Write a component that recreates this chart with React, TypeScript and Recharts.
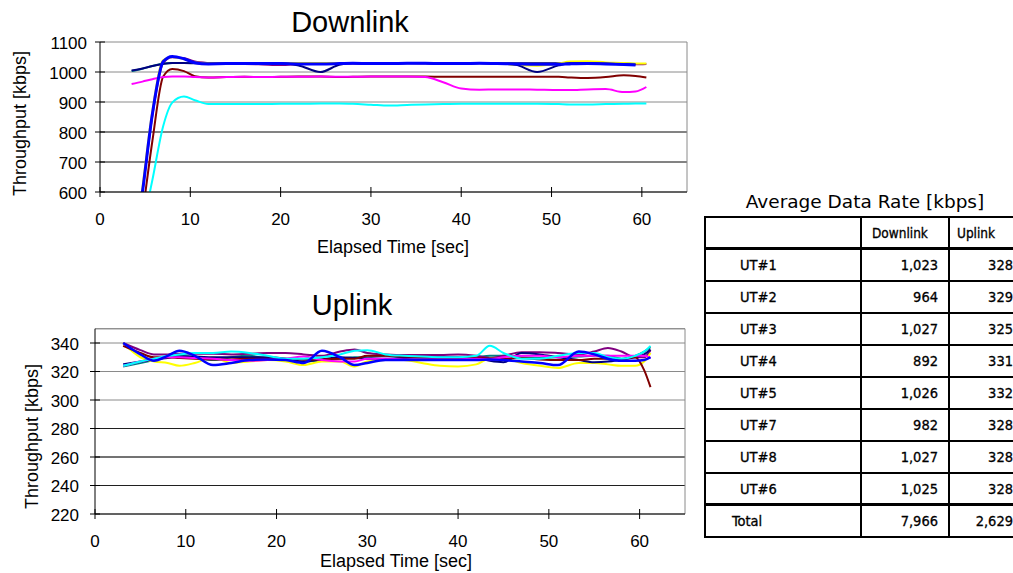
import React from 'react';
import { LineChart, Line, XAxis, YAxis, CartesianGrid, ReferenceLine } from 'recharts';

// ---------- Downlink data ----------
const dlTime = [3.5, 4.7, 5.8, 7, 8, 9.3, 10.5, 12, 14, 16, 18, 20, 22, 24.4, 26.5, 28, 30, 32, 34, 36, 38, 40, 42, 44, 46, 48.4, 50.8, 52, 54, 56, 58, 59.3, 60.5];
const dlNavy = [1005, 1012, 1020, 1027, 1030, 1030, 1029, 1028, 1028, 1028, 1028, 1029, 1022, 1000, 1024, 1029, 1028, 1028, 1029, 1029, 1028, 1028, 1029, 1028, 1024, 1000, 1022, 1029, 1029, 1028, 1026, 1025, null];
const dlBlue = [350, 600, 860, 1035, 1052, 1044, 1031, 1027, 1028, 1028, 1028, 1028, 1027, 1027, 1028, 1029, 1028, 1028, 1029, 1029, 1028, 1028, 1029, 1028, 1027, 1026, 1026, 1027, 1028, 1027, 1025, 1023, null];
const dlYellow = [340, 615, 870, 1040, 1050, 1043, 1032, 1030, 1030, 1030, 1030, 1030, 1030, 1030, 1030, 1030, 1030, 1030, 1030, 1030, 1030, 1030, 1030, 1029, 1024, 1021, 1028, 1035, 1036, 1032, 1030, 1028, 1028];
const dlPurple = [330, 600, 855, 1030, 1049, 1046, 1035, 1030, 1028, 1027, 1025, 1023, 1026, 1029, 1030, 1028, 1028, 1030, 1030, 1029, 1028, 1028, 1030, 1029, 1028, 1028, 1028, 1028, 1030, 1029, 1027, 1026, 1027];
const dlTeal = [1003, 1011, 1020, 1028, 1030, 1030, 1030, 1030, 1030, 1030, 1030, 1030, 1030, 1030, 1030, 1030, 1030, 1030, 1030, 1030, 1030, 1030, 1030, 1030, 1030, 1030, 1030, 1030, 1030, 1030, 1029, 1027, null];
const dlMaroon = [250, 523, 770, 985, 1010, 1003, 986, 982, 983, 984, 983, 984, 985, 985, 983, 984, 985, 985, 985, 985, 984, 984, 984, 984, 984, 984, 984, 982, 980, 983, 989, 987, 982];
const dlMagenta = [960, 968, 976, 983, 985, 985, 983, 982, 983, 984, 983, 984, 984, 985, 984, 984, 985, 985, 985, 983, 966, 945, 941, 942, 942, 941, 940, 940, 942, 943, 933, 935, 950];
const dlCyan = [300, 480, 640, 820, 898, 918, 906, 893, 893, 893, 893, 894, 894, 895, 895, 894, 891, 888, 890, 892, 893, 894, 894, 894, 894, 894, 893, 892, 892, 893, 894, 895, 895];

// ---------- Uplink data ----------
const ulTime = [3.1, 5, 6.5, 8, 9.3, 11, 13, 15, 17, 19, 21, 23, 25, 27, 28.6, 30, 32, 34, 36, 38, 40, 42, 43.5, 45, 47, 49, 51, 53.3, 55, 56.5, 58, 59.5, 60.5, 61.2];
const ulBlue = [340, 332, 327.5, 331, 334.5, 331, 324.5, 326, 328, 328.5, 328, 326, 334.5, 330, 324.5, 326, 328, 328, 328, 328, 328, 328, 328.5, 328, 327, 326, 324.5, 334, 332, 329, 327.5, 327.5, 328, 330];
const ulYellow = [340, 330, 327, 326, 324, 326, 330, 326, 327, 328, 327, 324.5, 327, 327, 323.5, 327, 328, 328, 326, 324, 323.5, 325, 329, 329, 326, 324, 322.5, 326, 326, 325, 324, 324, 327, 333];
const ulPurple = [340, 335, 332, 332, 332.5, 332.5, 332.5, 332, 332.5, 333, 333, 332, 331, 334, 335.5, 333, 332, 331.5, 331.5, 331.5, 332, 331, 329.5, 331, 333.5, 333.5, 333, 332, 334, 336.5, 334, 330, 330, 335];
const ulMaroon = [338, 333, 330, 330, 329.5, 329, 328.5, 328.5, 329, 329, 329, 328.5, 328.5, 329, 329, 331, 331, 330.5, 330, 329.5, 329.5, 329.5, 329, 329, 329.5, 328.5, 328, 328, 329, 329, 328.5, 330, 321, 309];
const ulCyan = [324, 327, 329, 331, 332, 333, 333, 334, 333, 331, 329, 329, 330, 332, 334.5, 335, 332, 331, 330.5, 330, 330, 331, 338, 333, 329, 329, 331, 333, 333, 330, 329, 331, 334, 338];
const ulTeal = [323.5, 326, 328, 330, 331, 330, 328, 330, 331, 329, 328, 327, 328, 329, 330, 330, 331, 330, 329.5, 329, 329.5, 330, 331, 331, 330, 329.5, 330, 330.5, 331, 331, 329, 331, 334, 337];
const ulNavy = [325, 327, 328.5, 329.5, 330.5, 330.5, 330, 330, 330, 330, 329, 327, 328.5, 330, 329.5, 329, 329, 329.5, 330, 330, 330, 329.5, 327.5, 326.5, 333, 332, 330, 328, 326.5, 327, 328.5, 330, 332, 335.5];
const ulMagenta = [324, 327, 329, 330, 330, 329.5, 329, 328, 327.5, 328, 329, 330.5, 328, 327, 327, 329, 329, 328.5, 328.5, 328.5, 328.5, 329, 328.5, 330, 331, 331, 330, 331, 331, 331, 331, 331, 331, 329.5];

// ---------- Axis ticks ----------
const xTicks = [0, 10, 20, 30, 40, 50, 60];
const dlYTicks = [600, 700, 800, 900, 1000, 1100];
const dlDarkGrid = [700, 800];
const ulYTicks = [220, 240, 260, 280, 300, 320, 340];
const ulDarkGrid = [240, 260, 280];

// ---------- Table ----------
const utLabels = ['UT#1', 'UT#2', 'UT#3', 'UT#4', 'UT#5', 'UT#7', 'UT#8', 'UT#6'];
const dlAvg = [1023, 964, 1027, 892, 1026, 982, 1027, 1025];
const ulAvg = [328, 329, 325, 331, 332, 328, 328, 328];
const totalLabel = 'Total';
const dlTotal = 7966;
const ulTotal = 2629;

const dlData = dlTime.map((t, i) => ({
  t,
  navy: dlNavy[i], blue: dlBlue[i], yellow: dlYellow[i], purple: dlPurple[i],
  teal: dlTeal[i], maroon: dlMaroon[i], magenta: dlMagenta[i], cyan: dlCyan[i],
}));
const ulData = ulTime.map((t, i) => ({
  t,
  navy: ulNavy[i], blue: ulBlue[i], yellow: ulYellow[i], purple: ulPurple[i],
  teal: ulTeal[i], maroon: ulMaroon[i], magenta: ulMagenta[i], cyan: ulCyan[i],
}));

const FONT = '"Liberation Sans", Arial, sans-serif';
const TFONT = '"DejaVu Sans", Verdana, sans-serif';
const CFONT = '"DejaVu Sans Condensed", "DejaVu Sans", Verdana, sans-serif';

const COLORS: Record<string, string> = {
  teal: '#008080', purple: '#800080', yellow: '#FFFF00', navy: '#000080',
  maroon: '#800000', magenta: '#FF00FF', cyan: '#00FFFF', blue: '#0000FF',
};

const makeXTick = () => (props: any) => {
  const { x, y, payload } = props;
  return (
    <g>
      <line x1={x} x2={x} y1={y - 5} y2={y + 5} stroke="#000" strokeWidth={1} />
      <text x={x} y={y + 33} textAnchor="middle" fontSize={17} fontFamily={FONT} fill="#000">{payload.value}</text>
    </g>
  );
};
const makeYTick = (gap: number) => (props: any) => {
  const { x, y, payload } = props;
  return (
    <g>
      <line x1={x - 5} x2={x + 5} y1={y} y2={y} stroke="#000" strokeWidth={1} />
      <text x={x - gap} y={y + 6.5} textAnchor="end" fontSize={17} fontFamily={FONT} fill="#000">{payload.value}</text>
    </g>
  );
};

const seriesOrder = ['teal', 'purple', 'yellow', 'navy', 'maroon', 'magenta', 'cyan', 'blue'];

function renderLines(blueWidth: number) {
  return seriesOrder.map((k) => (
    <Line
      key={k}
      dataKey={k}
      type="monotone"
      stroke={COLORS[k]}
      strokeWidth={k === 'blue' ? blueWidth : 2}
      dot={false}
      activeDot={false}
      isAnimationActive={false}
      connectNulls={false}
    />
  ));
}

export default function App() {
  const rowH = 32;
  const colW = [156, 88, 75];
  return (
    <div style={{ position: 'absolute', left: 0, top: 0, width: 1013, height: 573, overflow: 'hidden', background: '#fff' }}>
      {/* Downlink chart */}
      <div style={{ position: 'absolute', left: 0, top: 0 }}>
        <LineChart width={700} height={260} data={dlData} margin={{ top: 42, right: 13, left: 0, bottom: 38 }}>
          <CartesianGrid vertical={false} stroke="#8a8a8a" strokeWidth={1} />
          {dlDarkGrid.map((v) => <ReferenceLine key={v} y={v} stroke="#404040" strokeWidth={1} />)}
          <XAxis dataKey="t" type="number" domain={[0, 65]} ticks={xTicks} interval={0} height={30}
            axisLine={{ stroke: '#000' }} tickLine={false} tickSize={0} tickMargin={0} tick={makeXTick()} allowDataOverflow />
          <YAxis type="number" domain={[600, 1100]} ticks={dlYTicks} interval={0} width={100}
            axisLine={{ stroke: '#000' }} tickLine={false} tickSize={0} tickMargin={0} tick={makeYTick(13)} allowDataOverflow />
          <ReferenceLine x={65} stroke="#8a8a8a" strokeWidth={1} />
          {renderLines(3)}
        </LineChart>
      </div>

      {/* Uplink chart */}
      <div style={{ position: 'absolute', left: 0, top: 300 }}>
        <LineChart width={700} height={260} data={ulData} margin={{ top: 28.75, right: 15, left: 0, bottom: 16 }}>
          <CartesianGrid vertical={false} stroke="#8a8a8a" strokeWidth={1} />
          {ulDarkGrid.map((v) => <ReferenceLine key={v} y={v} stroke="#202020" strokeWidth={1} />)}
          <XAxis dataKey="t" type="number" domain={[0, 65]} ticks={xTicks} interval={0} height={30}
            axisLine={{ stroke: '#000' }} tickLine={false} tickSize={0} tickMargin={0} tick={makeXTick()} allowDataOverflow />
          <YAxis type="number" domain={[220, 350]} ticks={ulYTicks} interval={0} width={95}
            axisLine={{ stroke: '#000' }} tickLine={false} tickSize={0} tickMargin={0} tick={makeYTick(16)} allowDataOverflow />
          <ReferenceLine y={350} stroke="#8a8a8a" strokeWidth={1} />
          <ReferenceLine x={65} stroke="#8a8a8a" strokeWidth={1} />
          {renderLines(2.5)}
        </LineChart>
      </div>

      {/* Titles and axis labels */}
      <svg width={1013} height={573} style={{ position: 'absolute', left: 0, top: 0, pointerEvents: 'none' }}>
        <text x={350} y={32} textAnchor="middle" fontSize={29} fontFamily={FONT} fill="#000">Downlink</text>
        <text x={352} y={315} textAnchor="middle" fontSize={29} fontFamily={FONT} fill="#000">Uplink</text>
        <text x={393} y={253} textAnchor="middle" fontSize={18} fontFamily={FONT} fill="#000">Elapsed Time [sec]</text>
        <text x={396} y={567} textAnchor="middle" fontSize={18} fontFamily={FONT} fill="#000">Elapsed Time [sec]</text>
        <text x={25.5} y={123.5} transform="rotate(-90 25.5 123.5)" textAnchor="middle" fontSize={18} fontFamily={FONT} fill="#000">Throughput [kbps]</text>
        <text x={38} y={436.5} transform="rotate(-90 38 436.5)" textAnchor="middle" fontSize={18} fontFamily={FONT} fill="#000">Throughput [kbps]</text>
        <text x={865} y={208} textAnchor="middle" fontSize={18.5} fontFamily={TFONT} fill="#000">Average Data Rate [kbps]</text>
      </svg>

      {/* Table */}
      <div style={{ position: 'absolute', left: 704, top: 216, fontFamily: CFONT, fontSize: 14.5, color: '#000',
        WebkitTextStroke: '0.3px #000',
        borderLeft: '2px solid #000', borderTop: '2px solid #000', display: 'grid',
        gridTemplateColumns: colW.map((w) => w + 'px').join(' ') }}>
        {[
          { label: '', dl: 'Downlink', ul: 'Uplink', header: true, thick: true, indent: 0 },
          ...utLabels.map((u, i) => ({ label: u, dl: dlAvg[i].toLocaleString('en-US'), ul: ulAvg[i].toLocaleString('en-US'), header: false, thick: i === utLabels.length - 1, indent: 34 })),
          { label: totalLabel, dl: dlTotal.toLocaleString('en-US'), ul: ulTotal.toLocaleString('en-US'), header: false, thick: false, indent: 26 },
        ].map((r, ri) => {
          const bb = r.thick ? '3px solid #000' : '2px solid #000';
          const h = ri === 0 ? 32 : rowH;
          const cell = (content: string, align: 'left' | 'right', pad: number, key: string) => (
            <div key={key} style={{ boxSizing: 'border-box', height: h, borderRight: '2px solid #000', borderBottom: bb,
              display: 'flex', alignItems: 'center', justifyContent: align === 'left' ? 'flex-start' : 'flex-end',
              paddingLeft: align === 'left' ? pad : 0, paddingRight: align === 'right' ? pad : 0, whiteSpace: 'nowrap',
              fontSize: r.header ? 13.5 : undefined }}>
              {content}
            </div>
          );
          return (
            <React.Fragment key={ri}>
              {cell(r.label, 'left', r.indent, 'a')}
              {r.header ? cell(r.dl, 'left', 10, 'b') : cell(r.dl, 'right', 10, 'b')}
              {r.header ? cell(r.ul, 'left', 7, 'c') : cell(r.ul, 'right', 10, 'c')}
            </React.Fragment>
          );
        })}
      </div>
    </div>
  );
}
